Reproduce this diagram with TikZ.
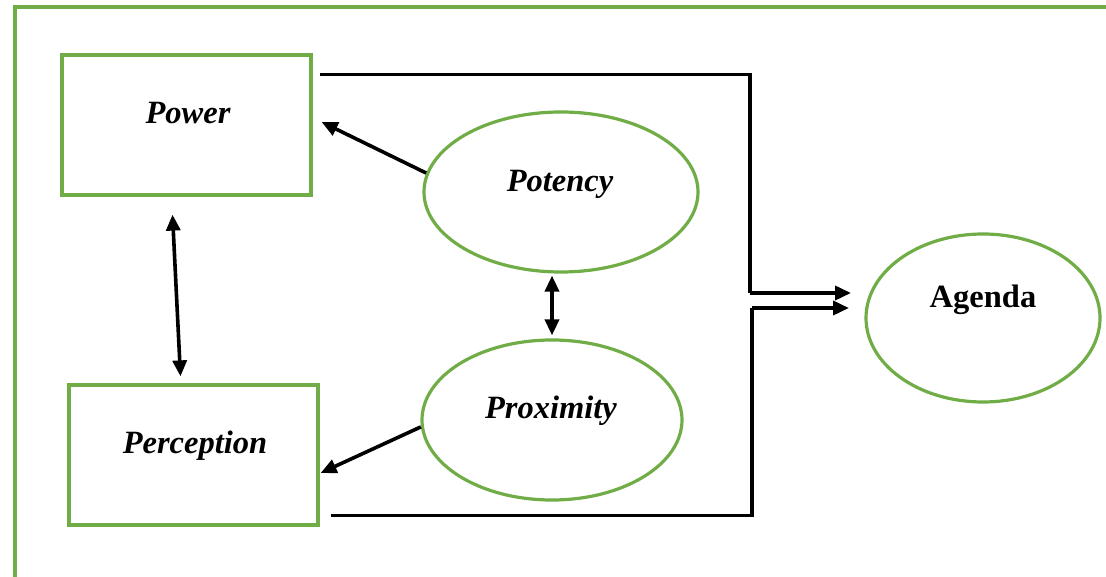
\documentclass[tikz,border=0pt]{standalone}
\usepackage{fontspec}
\setmainfont{Liberation Serif}
\usetikzlibrary{shapes.geometric,arrows.meta,calc}
\definecolor{frgreen}{RGB}{112,173,71}
\begin{document}
\begin{tikzpicture}[x=1pt,y=-1pt,
  lbl/.style={font=\fontsize{32.5}{38}\selectfont\bfseries\itshape},
  boxnode/.style={draw=frgreen,line width=3.2pt,rectangle,minimum width=249pt,minimum height=140pt,inner sep=0pt},
  ellnode/.style={draw=frgreen,line width=3.2pt,ellipse,inner sep=0pt},
  tip/.tip={Triangle[length=16pt,width=14pt]},
  arr/.style={line width=3.6pt,-tip},
  darr/.style={line width=3.6pt,tip-tip},
  conn/.style={line width=3.6pt}]
\useasboundingbox (0,0) rectangle (1106,577);
\begin{scope}
\clip (0,0) rectangle (1106,577);
\draw[frgreen,line width=3.2pt] (15,600) -- (15,7) -- (1120,7);
\end{scope}
% nodes
\node[boxnode] (power) at (186.5,125) {};
\node[lbl] (powerlbl) at (188,113) {Power};
\node[boxnode] (perception) at (193.5,455) {};
\node[lbl] (perceptionlbl) at (195,446) {Perception};
\node[ellnode,minimum width=274pt,minimum height=160pt] (potency) at (561,192) {};
\node[lbl] (potencylbl) at (560,184) {Potency};
\node[ellnode,minimum width=260pt,minimum height=160pt] (proximity) at (552,420) {};
\node[lbl] (proximitylbl) at (551,411) {Proximity};
\node[ellnode,minimum width=234pt,minimum height=168pt] (agenda) at (983,318) {};
\node[font=\fontsize{32.5}{38}\selectfont\bfseries] (agendalbl) at (983,300) {Agenda};
% coordinates
\coordinate (p1) at ($(power.north east)+(7,21)$);
\coordinate (j1) at (750,293);
\coordinate (t1) at (851,293);
\coordinate (p2) at ($(perception.south east)+(11,-11)$);
\coordinate (j2) at (752,308);
\coordinate (t2) at (849,308);
% connectors
\draw[conn] (p1) -| (j1);
\draw[arr] (j1) -- (t1);
\draw[conn] (p2) -| (j2);
\draw[arr] (j2) -- (t2);
\draw[arr] (potency.172) -- ($(power.east)+(9,-3)$);
\draw[arr] (proximity.183) -- ($(perception.east)+(1,18)$);
\draw[darr] ($(power.south)+(-14,18)$) -- ($(perception.north)+(-13,-7)$);
\draw[darr] ($(potency.south)+(-9,2)$) -- ($(proximity.north)+(0,-3)$);
\end{tikzpicture}
\end{document}
